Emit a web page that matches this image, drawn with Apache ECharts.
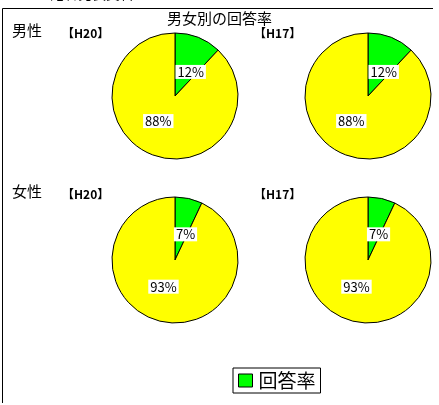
<!DOCTYPE html>
<html><head><meta charset="utf-8">
<script src="https://cdn.jsdelivr.net/npm/echarts@6/dist/echarts.min.js"></script>
<style>html,body{margin:0;padding:0;background:#fff}#c{width:439px;height:405px}</style>
</head><body><div id="c"></div>
<script>
const title = '男女別の回答率';
const groups = ['男性', '女性'];
const years = ['【H20】', '【H17】'];
const sliceNames = ['回答率', '無回答'];
const maleH20 = [12, 88];
const maleH17 = [12, 88];
const femaleH20 = [7, 93];
const femaleH17 = [7, 93];
const colors = ['#00FF00', '#FFFF00'];
const FONT = '"Noto Sans CJK JP", "Noto Sans", sans-serif';

const chart = echarts.init(document.getElementById('c'), null, {renderer: 'canvas'});

function pieSeries(vals, cx, cy) {
  return {
    type: 'pie',
    center: [cx, cy],
    radius: 63,
    startAngle: 90,
    clockwise: true,
    silent: true,
    emphasis: {disabled: true},
    labelLine: {show: false},
    itemStyle: {borderColor: '#000', borderWidth: 1},
    label: {
      show: true, position: 'inside', formatter: '{c}%',
      color: '#000', fontSize: 13, fontFamily: FONT,
      backgroundColor: '#fff', padding: [1, 2, 0, 2]
    },
    data: vals.map((v, i) => ({
      name: sliceNames[i], value: v,
      itemStyle: {color: colors[i]},
      label: {offset: i === 0 ? [3, 8] : [-4, -7]}
    }))
  };
}

function txt(x, y, s, size, weight) {
  return {
    type: 'text', left: x, top: y, silent: true,
    style: {text: s, fill: '#000', font: (weight || 'normal') + ' ' + size + 'px ' + FONT}
  };
}

chart.setOption({
  animation: false,
  backgroundColor: '#fff',
  title: {
    text: title, left: 'center', top: 6,
    textStyle: {fontSize: 15, fontWeight: 'normal', color: '#000', fontFamily: FONT}
  },
  legend: {
    data: ['回答率'],
    left: 233, top: 368,
    orient: 'horizontal',
    icon: 'rect',
    itemWidth: 14, itemHeight: 13,
    itemStyle: {borderColor: '#000', borderWidth: 1},
    borderColor: '#000', borderWidth: 1,
    padding: [3, 5, 3, 5],
    textStyle: {fontSize: 19, color: '#000', fontFamily: FONT, padding: [0, 0, 0, 1]},
    selectedMode: false
  },
  graphic: [
    {type: 'line', silent: true, shape: {x1: 2.5, y1: 8.5, x2: 433, y2: 8.5}, style: {stroke: '#000', lineWidth: 1}},
    {type: 'line', silent: true, shape: {x1: 2.5, y1: 8.5, x2: 2.5, y2: 403}, style: {stroke: '#000', lineWidth: 1}},
    txt(50, -13, '記者発表資料', 14),
    txt(12, 23, groups[0], 15),
    txt(12, 184, groups[1], 15),
    txt(62, 27, years[0], 12, 'bold'),
    txt(254, 27, years[1], 12, 'bold'),
    txt(62, 188, years[0], 12, 'bold'),
    txt(254, 188, years[1], 12, 'bold')
  ],
  series: [
    pieSeries(maleH20, 175, 96),
    pieSeries(maleH17, 368, 96),
    pieSeries(femaleH20, 175, 260),
    pieSeries(femaleH17, 368, 260)
  ]
});
</script>
</body></html>
